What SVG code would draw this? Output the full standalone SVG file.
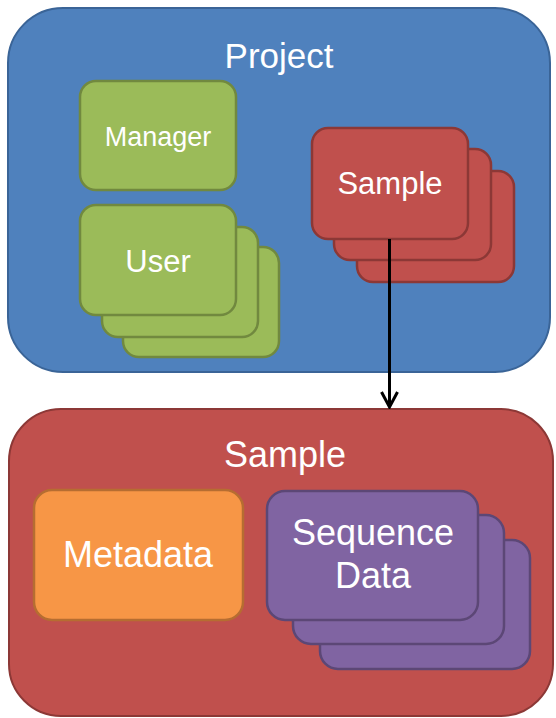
<svg xmlns="http://www.w3.org/2000/svg" width="556" height="718" viewBox="0 0 556 718">
<defs>
<style>
.proj{fill:#4F81BD;stroke:#3A6497;stroke-width:2}
.grn{fill:#9BBB59;stroke:#71893F;stroke-width:2.5}
.red{fill:#C0504D;stroke:#8C3836;stroke-width:2.5}
.bigred{fill:#C0504D;stroke:#8C3836;stroke-width:2}
.org{fill:#F79646;stroke:#B66D31;stroke-width:2.5}
.pur{fill:#8064A2;stroke:#5C4776;stroke-width:2.5}
text{font-family:"Liberation Sans",Arial,sans-serif;fill:#FFFFFF;text-anchor:middle}
.conn{stroke:#000;stroke-width:3;fill:none}
</style>
<marker id="arr" viewBox="0 0 20 20" refX="18" refY="10" markerWidth="20" markerHeight="20" markerUnits="userSpaceOnUse" orient="auto">
<polyline points="3,2 18,10 3,18" fill="none" stroke="#000" stroke-width="3"/>
</marker>
</defs>
<g id="project">
<rect class="proj" x="8" y="8" width="542" height="364" rx="55" ry="55"/>
<text x="279" y="68" font-size="35">Project</text>
</g>
<g id="manager">
<rect class="grn" x="80" y="81" width="156" height="109" rx="16" ry="16"/>
<text x="158" y="146" font-size="27">Manager</text>
</g>
<g id="user">
<rect class="grn" x="123" y="247" width="156" height="110" rx="16" ry="16"/>
<rect class="grn" x="102" y="227" width="156" height="110" rx="16" ry="16"/>
<rect class="grn" x="80" y="205" width="156" height="110" rx="16" ry="16"/>
<text x="158" y="272" font-size="31">User</text>
</g>
<g id="sample-stack">
<rect class="red" x="357" y="171" width="157" height="111" rx="16" ry="16"/>
<rect class="red" x="334" y="149" width="157" height="111" rx="16" ry="16"/>
<rect class="red" x="312" y="128" width="156" height="111" rx="16" ry="16"/>
<text x="390" y="194" font-size="31">Sample</text>
</g>
<g id="sample">
<rect class="bigred" x="9" y="409" width="544" height="307" rx="52" ry="52"/>
<text x="285" y="467" font-size="36">Sample</text>
</g>
<g id="metadata">
<rect class="org" x="34" y="490" width="209" height="130" rx="18" ry="18"/>
<text x="138" y="567" font-size="36">Metadata</text>
</g>
<g id="sequence-data">
<rect class="pur" x="320" y="540" width="210" height="129" rx="18" ry="18"/>
<rect class="pur" x="293" y="515" width="211" height="129" rx="18" ry="18"/>
<rect class="pur" x="267" y="491" width="211" height="129" rx="18" ry="18"/>
<text x="373" y="545" font-size="36">Sequence</text>
<text x="373" y="588" font-size="36">Data</text>
</g>
<g id="connectors">
<path class="conn" d="M389.5 239 V407" marker-end="url(#arr)"/>
</g>
</svg>
